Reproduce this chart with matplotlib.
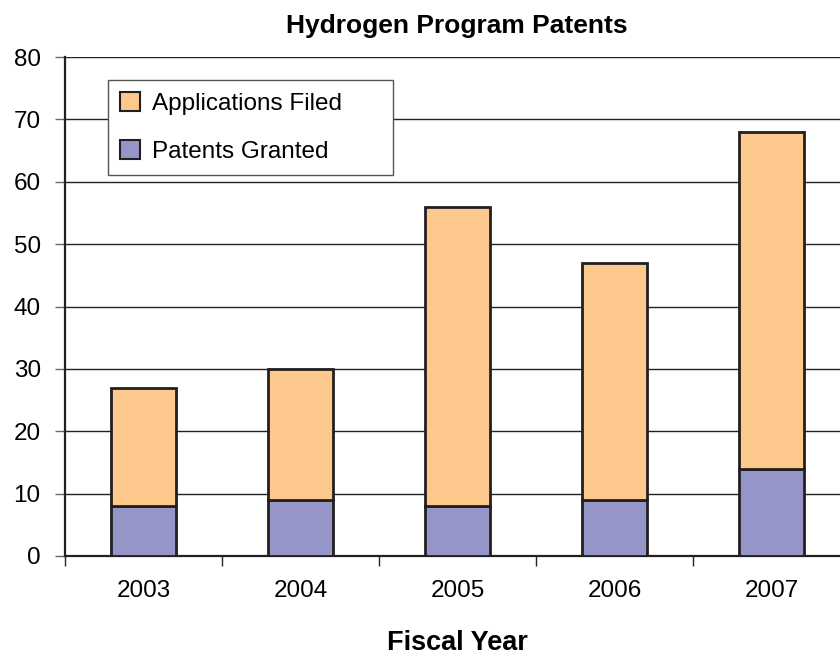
"""Hydrogen Program Patents: stacked bars of granted patents and applications."""

import matplotlib

matplotlib.use("Agg")
from matplotlib import pyplot as plt  # noqa: E402
from matplotlib.patches import Patch  # noqa: E402
from matplotlib.ticker import FixedLocator  # noqa: E402

YEARS = ["2003", "2004", "2005", "2006", "2007"]
PATENTS_GRANTED = [8, 9, 8, 9, 14]
APPLICATIONS_FILED = [19, 21, 48, 38, 54]

ORANGE = "#FCC88C"
PURPLE = "#9595C8"
EDGE = "#231F20"

plt.rcParams["font.family"] = ["Liberation Sans", "DejaVu Sans"]

fig = plt.figure(figsize=(8.4, 6.56), dpi=100)
ax = fig.add_axes((65 / 840, 100 / 656, 785 / 840, 499 / 656))

x = range(len(YEARS))
ax.bar(x, PATENTS_GRANTED, width=0.41, color=PURPLE, edgecolor=EDGE,
       linewidth=2, zorder=3)
ax.bar(x, APPLICATIONS_FILED, width=0.41, bottom=PATENTS_GRANTED,
       color=ORANGE, edgecolor=EDGE, linewidth=2, zorder=3)

ax.set_xlim(-0.5, len(YEARS) - 0.5)
ax.set_ylim(0, 80)
ax.set_yticks(range(0, 81, 10))
ax.yaxis.grid(True, color="#222222", linewidth=1)
ax.set_axisbelow(True)

ax.set_xticks(list(x))
ax.set_xticklabels(YEARS)
ax.xaxis.set_minor_locator(FixedLocator([i - 0.5 for i in range(len(YEARS) + 1)]))
ax.tick_params(axis="x", which="major", length=0, pad=17, labelsize=17.5)
ax.tick_params(axis="x", which="minor", length=7, width=1, color="#222222",
               direction="out")
ax.tick_params(axis="y", length=7, width=1, color="#666666", labelsize=17.5,
               pad=10.5)

for side in ("top", "right"):
    ax.spines[side].set_visible(False)
ax.spines["left"].set_linewidth(1.6)
ax.spines["left"].set_color(EDGE)
ax.spines["bottom"].set_linewidth(1.6)
ax.spines["bottom"].set_color(EDGE)

fig.text(457 / 840, 1 - 26 / 656, "Hydrogen Program Patents", ha="center",
         va="center", fontsize=19, fontweight="bold")
fig.text(457 / 840, 1 - 650 / 656, "Fiscal Year", ha="center", va="baseline",
         fontsize=19.5, fontweight="bold")

handles = [
    Patch(facecolor=ORANGE, edgecolor=EDGE, linewidth=1.5, label="Applications Filed"),
    Patch(facecolor=PURPLE, edgecolor=EDGE, linewidth=1.5, label="Patents Granted"),
]
legend = ax.legend(
    handles=handles,
    loc="upper left",
    bbox_to_anchor=(43 / 785, 476 / 499, 285 / 785, 0),
    mode="expand",
    borderaxespad=0,
    frameon=True,
    fancybox=False,
    edgecolor="#555555",
    framealpha=1,
    fontsize=17.5,
    handlelength=0.8,
    handleheight=0.8,
    handletextpad=0.5,
    labelspacing=1.05,
    borderpad=0.5,
)
legend.get_frame().set_linewidth(1)
legend.set_zorder(5)

fig.savefig("out.png", dpi=100, facecolor="white")
